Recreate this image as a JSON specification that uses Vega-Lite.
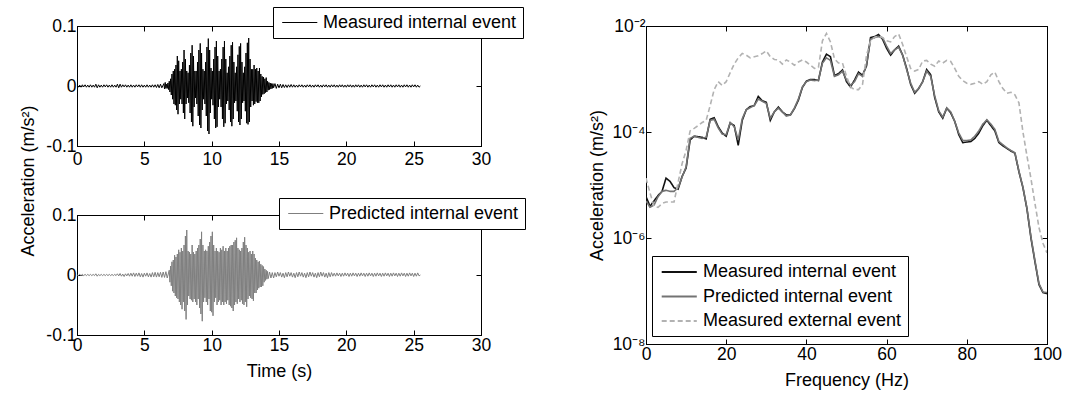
{
  "$schema": "https://vega.github.io/schema/vega-lite/v6.json",
  "background": "white",
  "padding": {"left": 18, "top": 6, "right": 5, "bottom": 5},
  "bounds": "flush",
  "spacing": 569,
  "config": {
    "font": "Liberation Sans",
    "view": {"stroke": "#000000", "strokeWidth": 1},
    "line": {"strokeCap": "butt", "strokeJoin": "miter"},
    "axis": {
      "domainColor": "#000000", "domainWidth": 1,
      "tickColor": "#000000", "tickSize": -5, "tickWidth": 1,
      "labelColor": "#000000", "labelFontSize": 17.5, "labelFont": "Liberation Sans",
      "titleFont": "Liberation Sans", "titleFontSize": 18, "titleFontWeight": "normal", "titleColor": "#000000",
      "labelFlush": false, "labelOverlap": false, "labelPadding": 6, "grid": false
    },
    "legend": {
      "orient": "none", "title": null, "symbolType": "M-0.7,0H3.2", "symbolSize": 324,
      "labelFont": "Liberation Sans", "labelFontSize": 18, "labelColor": "#000000", "labelLimit": 400,
      "strokeColor": "#000000", "fillColor": "#ffffff", "padding": 6, "labelOffset": 25
    }
  },
  "datasets": {
    "measured": [
      {"t":0,"a":0.001},{"t":0.1,"a":-0.002},{"t":0.2,"a":0.0015},{"t":0.3,"a":-0.002},{"t":0.4,"a":0.002},{"t":0.5,"a":-0.0015},{"t":0.6,"a":0.002},{"t":0.7,"a":-0.002},{"t":0.8,"a":0.0015},{"t":0.9,"a":-0.002},
      {"t":1,"a":0.002},{"t":1.1,"a":-0.002},{"t":1.2,"a":0.0015},{"t":1.3,"a":-0.002},{"t":1.4,"a":0.003},{"t":1.5,"a":-0.003},{"t":1.6,"a":0.002},{"t":1.7,"a":-0.002},{"t":1.8,"a":0.0015},{"t":1.9,"a":-0.002},
      {"t":2,"a":0.002},{"t":2.1,"a":-0.0015},{"t":2.2,"a":0.002},{"t":2.3,"a":-0.002},{"t":2.4,"a":0.0015},{"t":2.5,"a":-0.002},{"t":2.6,"a":0.002},{"t":2.7,"a":-0.002},{"t":2.8,"a":0.0015},{"t":2.9,"a":-0.002},
      {"t":3,"a":0.003},{"t":3.1,"a":-0.003},{"t":3.2,"a":0.003},{"t":3.3,"a":-0.002},{"t":3.4,"a":0.002},{"t":3.5,"a":-0.0015},{"t":3.6,"a":0.002},{"t":3.7,"a":-0.002},{"t":3.8,"a":0.0015},{"t":3.9,"a":-0.002},
      {"t":4,"a":0.002},{"t":4.1,"a":-0.002},{"t":4.2,"a":0.0015},{"t":4.3,"a":-0.002},{"t":4.4,"a":0.002},{"t":4.5,"a":-0.0015},{"t":4.6,"a":0.002},{"t":4.7,"a":-0.002},{"t":4.8,"a":0.002},{"t":4.9,"a":-0.002},
      {"t":5,"a":0.0015},{"t":5.1,"a":-0.002},{"t":5.2,"a":0.002},{"t":5.3,"a":-0.002},{"t":5.4,"a":0.0015},{"t":5.5,"a":-0.002},{"t":5.6,"a":0.002},{"t":5.7,"a":-0.002},{"t":5.8,"a":0.002},{"t":5.9,"a":-0.0025},
      {"t":6,"a":0.0025},{"t":6.1,"a":-0.003},{"t":6.2,"a":0.003},{"t":6.3,"a":-0.003},
      {"t":6.45,"a":0.004},{"t":6.5,"a":-0.005},{"t":6.55,"a":0.006},{"t":6.6,"a":-0.004},{"t":6.65,"a":0.003},{"t":6.7,"a":-0.004},{"t":6.75,"a":0.005},{"t":6.8,"a":-0.006},{"t":6.85,"a":0.008},{"t":6.9,"a":-0.01},{"t":6.95,"a":0.012},
      {"t":7,"a":-0.015},{"t":7.05,"a":0.02},{"t":7.1,"a":-0.022},{"t":7.15,"a":0.025},{"t":7.2,"a":-0.03},{"t":7.25,"a":0.028},{"t":7.3,"a":-0.032},{"t":7.35,"a":0.035},{"t":7.4,"a":-0.04},{"t":7.45,"a":0.05},
      {"t":7.5,"a":-0.047},{"t":7.55,"a":0.042},{"t":7.6,"a":-0.03},{"t":7.65,"a":0.025},{"t":7.7,"a":-0.022},{"t":7.75,"a":0.028},{"t":7.8,"a":-0.03},{"t":7.85,"a":0.04},{"t":7.9,"a":-0.045},{"t":7.95,"a":0.06},
      {"t":8,"a":-0.055},{"t":8.05,"a":0.045},{"t":8.1,"a":-0.03},{"t":8.15,"a":0.025},{"t":8.2,"a":-0.02},{"t":8.25,"a":0.022},{"t":8.3,"a":-0.028},{"t":8.35,"a":0.035},{"t":8.4,"a":-0.045},{"t":8.45,"a":0.055},
      {"t":8.5,"a":-0.06},{"t":8.55,"a":0.068},{"t":8.6,"a":-0.067},{"t":8.65,"a":0.05},{"t":8.7,"a":-0.035},{"t":8.75,"a":0.025},{"t":8.8,"a":-0.02},{"t":8.85,"a":0.025},{"t":8.9,"a":-0.03},{"t":8.95,"a":0.04},
      {"t":9,"a":-0.05},{"t":9.05,"a":0.06},{"t":9.1,"a":-0.065},{"t":9.15,"a":0.071},{"t":9.2,"a":-0.07},{"t":9.25,"a":0.055},{"t":9.3,"a":-0.04},{"t":9.35,"a":0.028},{"t":9.4,"a":-0.022},{"t":9.45,"a":0.025},
      {"t":9.5,"a":-0.03},{"t":9.55,"a":0.04},{"t":9.6,"a":-0.05},{"t":9.65,"a":0.065},{"t":9.7,"a":-0.075},{"t":9.75,"a":0.079},{"t":9.8,"a":-0.08},{"t":9.85,"a":0.06},{"t":9.9,"a":-0.045},{"t":9.95,"a":0.03},
      {"t":10,"a":-0.022},{"t":10.05,"a":0.025},{"t":10.1,"a":-0.032},{"t":10.15,"a":0.045},{"t":10.2,"a":-0.055},{"t":10.25,"a":0.065},{"t":10.3,"a":-0.07},{"t":10.35,"a":0.075},{"t":10.4,"a":-0.068},{"t":10.45,"a":0.05},
      {"t":10.5,"a":-0.035},{"t":10.55,"a":0.025},{"t":10.6,"a":-0.022},{"t":10.65,"a":0.028},{"t":10.7,"a":-0.035},{"t":10.75,"a":0.045},{"t":10.8,"a":-0.055},{"t":10.85,"a":0.065},{"t":10.9,"a":-0.068},{"t":10.95,"a":0.075},
      {"t":11,"a":-0.062},{"t":11.05,"a":0.045},{"t":11.1,"a":-0.03},{"t":11.15,"a":0.022},{"t":11.2,"a":-0.025},{"t":11.25,"a":0.032},{"t":11.3,"a":-0.04},{"t":11.35,"a":0.05},{"t":11.4,"a":-0.06},{"t":11.45,"a":0.068},
      {"t":11.5,"a":-0.067},{"t":11.55,"a":0.073},{"t":11.6,"a":-0.055},{"t":11.65,"a":0.04},{"t":11.7,"a":-0.028},{"t":11.75,"a":0.022},{"t":11.8,"a":-0.025},{"t":11.85,"a":0.032},{"t":11.9,"a":-0.042},{"t":11.95,"a":0.052},
      {"t":12,"a":-0.06},{"t":12.05,"a":0.066},{"t":12.1,"a":-0.065},{"t":12.15,"a":0.071},{"t":12.2,"a":-0.055},{"t":12.25,"a":0.04},{"t":12.3,"a":-0.028},{"t":12.35,"a":0.022},{"t":12.4,"a":-0.025},{"t":12.45,"a":0.032},
      {"t":12.5,"a":-0.042},{"t":12.55,"a":0.055},{"t":12.6,"a":-0.062},{"t":12.65,"a":0.072},{"t":12.7,"a":-0.064},{"t":12.75,"a":0.08},{"t":12.8,"a":-0.06},{"t":12.85,"a":0.045},{"t":12.9,"a":-0.035},{"t":12.95,"a":0.028},
      {"t":13,"a":-0.025},{"t":13.05,"a":0.028},{"t":13.1,"a":-0.032},{"t":13.15,"a":0.035},{"t":13.2,"a":-0.03},{"t":13.25,"a":0.028},{"t":13.3,"a":-0.026},{"t":13.35,"a":0.03},{"t":13.4,"a":-0.028},{"t":13.45,"a":0.025},
      {"t":13.5,"a":-0.028},{"t":13.55,"a":0.03},{"t":13.6,"a":-0.025},{"t":13.65,"a":0.02},{"t":13.7,"a":-0.018},{"t":13.75,"a":0.016},{"t":13.8,"a":-0.014},{"t":13.85,"a":0.015},{"t":13.9,"a":-0.013},{"t":13.95,"a":0.012},
      {"t":14,"a":-0.011},{"t":14.05,"a":0.014},{"t":14.1,"a":-0.01},{"t":14.15,"a":0.008},{"t":14.2,"a":-0.007},{"t":14.25,"a":0.006},{"t":14.3,"a":-0.006},{"t":14.35,"a":0.005},{"t":14.4,"a":-0.005},{"t":14.45,"a":0.004},
      {"t":14.5,"a":-0.004},{"t":14.55,"a":0.004},{"t":14.6,"a":-0.003},
      {"t":14.7,"a":0.004},{"t":14.8,"a":-0.004},{"t":14.9,"a":0.003},{"t":15,"a":-0.003},{"t":15.1,"a":0.003},{"t":15.2,"a":-0.003},{"t":15.3,"a":0.0025},{"t":15.4,"a":-0.0025},{"t":15.5,"a":0.002},{"t":15.6,"a":-0.0025},
      {"t":15.7,"a":0.002},{"t":15.8,"a":-0.002},{"t":15.9,"a":0.0025},{"t":16,"a":-0.002},{"t":16.1,"a":0.002},{"t":16.2,"a":-0.002},{"t":16.3,"a":0.0015},{"t":16.4,"a":-0.002},{"t":16.5,"a":0.002},{"t":16.6,"a":-0.0015},
      {"t":16.7,"a":0.002},{"t":16.8,"a":-0.002},{"t":16.9,"a":0.0015},{"t":17,"a":-0.002},{"t":17.1,"a":0.002},{"t":17.2,"a":-0.0015},{"t":17.3,"a":0.002},{"t":17.4,"a":-0.002},{"t":17.5,"a":0.0015},{"t":17.6,"a":-0.002},
      {"t":17.7,"a":0.002},{"t":17.8,"a":-0.0015},{"t":17.9,"a":0.002},{"t":18,"a":-0.002},{"t":18.1,"a":0.0015},{"t":18.2,"a":-0.002},{"t":18.3,"a":0.002},{"t":18.4,"a":-0.0015},{"t":18.5,"a":0.002},{"t":18.6,"a":-0.002},
      {"t":18.7,"a":0.0015},{"t":18.8,"a":-0.002},{"t":18.9,"a":0.002},{"t":19,"a":-0.0015},{"t":19.1,"a":0.002},{"t":19.2,"a":-0.002},{"t":19.3,"a":0.0015},{"t":19.4,"a":-0.002},{"t":19.5,"a":0.002},{"t":19.6,"a":-0.0015},
      {"t":19.7,"a":0.002},{"t":19.8,"a":-0.002},{"t":19.9,"a":0.0015},{"t":20,"a":-0.002},{"t":20.1,"a":0.002},{"t":20.2,"a":-0.0015},{"t":20.3,"a":0.002},{"t":20.4,"a":-0.002},{"t":20.5,"a":0.0015},{"t":20.6,"a":-0.002},
      {"t":20.7,"a":0.002},{"t":20.8,"a":-0.0015},{"t":20.9,"a":0.002},{"t":21,"a":-0.002},{"t":21.1,"a":0.0015},{"t":21.2,"a":-0.002},{"t":21.3,"a":0.002},{"t":21.4,"a":-0.0015},{"t":21.5,"a":0.002},{"t":21.6,"a":-0.002},
      {"t":21.7,"a":0.0015},{"t":21.8,"a":-0.002},{"t":21.9,"a":0.002},{"t":22,"a":-0.0015},{"t":22.1,"a":0.002},{"t":22.2,"a":-0.002},{"t":22.3,"a":0.0015},{"t":22.4,"a":-0.002},{"t":22.5,"a":0.002},{"t":22.6,"a":-0.0015},
      {"t":22.7,"a":0.002},{"t":22.8,"a":-0.002},{"t":22.9,"a":0.0015},{"t":23,"a":-0.002},{"t":23.1,"a":0.002},{"t":23.2,"a":-0.0015},{"t":23.3,"a":0.002},{"t":23.4,"a":-0.002},{"t":23.5,"a":0.0015},{"t":23.6,"a":-0.002},
      {"t":23.7,"a":0.002},{"t":23.8,"a":-0.0015},{"t":23.9,"a":0.002},{"t":24,"a":-0.002},{"t":24.1,"a":0.0015},{"t":24.2,"a":-0.002},{"t":24.3,"a":0.002},{"t":24.4,"a":-0.0015},{"t":24.5,"a":0.002},{"t":24.6,"a":-0.002},
      {"t":24.7,"a":0.0015},{"t":24.8,"a":-0.002},{"t":24.9,"a":0.002},{"t":25,"a":-0.0015},{"t":25.1,"a":0.002},{"t":25.2,"a":-0.002},{"t":25.3,"a":0.0015},{"t":25.4,"a":-0.002},{"t":25.5,"a":0}
    ],
    "predicted": [
      {"t":0,"a":0},{"t":0.1,"a":-0.001},{"t":0.2,"a":0.001},{"t":0.3,"a":-0.001},{"t":0.4,"a":0.001},{"t":0.5,"a":-0.001},{"t":0.6,"a":0.001},{"t":0.7,"a":-0.001},{"t":0.8,"a":0.001},{"t":0.9,"a":-0.001},
      {"t":1,"a":0.001},{"t":1.1,"a":-0.001},{"t":1.2,"a":0.001},{"t":1.3,"a":-0.001},{"t":1.4,"a":0.002},{"t":1.5,"a":-0.002},{"t":1.6,"a":0.001},{"t":1.7,"a":-0.001},{"t":1.8,"a":0.001},{"t":1.9,"a":-0.001},
      {"t":2,"a":0.001},{"t":2.1,"a":-0.001},{"t":2.2,"a":0.001},{"t":2.3,"a":-0.001},{"t":2.4,"a":0.001},{"t":2.5,"a":-0.001},{"t":2.6,"a":0.001},{"t":2.7,"a":-0.001},{"t":2.8,"a":0.001},{"t":2.9,"a":-0.001},
      {"t":3,"a":0.002},{"t":3.1,"a":-0.0015},{"t":3.2,"a":0.0025},{"t":3.3,"a":-0.002},{"t":3.4,"a":0.0015},{"t":3.5,"a":-0.0025},{"t":3.6,"a":0.002},{"t":3.7,"a":-0.0015},{"t":3.8,"a":0.0025},{"t":3.9,"a":-0.002},
      {"t":4,"a":0.003},{"t":4.1,"a":-0.002},{"t":4.2,"a":0.0035},{"t":4.3,"a":-0.0025},{"t":4.4,"a":0.003},{"t":4.5,"a":-0.002},{"t":4.6,"a":0.0035},{"t":4.7,"a":-0.003},{"t":4.8,"a":0.0025},{"t":4.9,"a":-0.0035},
      {"t":5,"a":0.003},{"t":5.1,"a":-0.002},{"t":5.2,"a":0.0035},{"t":5.3,"a":-0.003},{"t":5.4,"a":0.0025},{"t":5.5,"a":-0.0035},{"t":5.6,"a":0.004},{"t":5.7,"a":-0.003},{"t":5.8,"a":0.0045},{"t":5.9,"a":-0.0035},
      {"t":6,"a":0.004},{"t":6.1,"a":-0.003},{"t":6.2,"a":0.0045},{"t":6.3,"a":-0.004},{"t":6.4,"a":0.005},{"t":6.5,"a":-0.004},{"t":6.6,"a":0.0055},{"t":6.7,"a":-0.005},
      {"t":6.85,"a":0.008},{"t":6.9,"a":-0.012},{"t":6.95,"a":0.015},{"t":7,"a":-0.018},{"t":7.05,"a":0.022},{"t":7.1,"a":-0.027},{"t":7.15,"a":0.025},{"t":7.2,"a":-0.03},{"t":7.25,"a":0.033},{"t":7.3,"a":-0.035},
      {"t":7.35,"a":0.03},{"t":7.4,"a":-0.038},{"t":7.45,"a":0.035},{"t":7.5,"a":-0.04},{"t":7.55,"a":0.042},{"t":7.6,"a":-0.045},{"t":7.65,"a":0.038},{"t":7.7,"a":-0.05},{"t":7.75,"a":0.045},{"t":7.8,"a":-0.057},
      {"t":7.85,"a":0.04},{"t":7.9,"a":-0.045},{"t":7.95,"a":0.05},{"t":8,"a":-0.06},{"t":8.05,"a":0.065},{"t":8.1,"a":-0.074},{"t":8.15,"a":0.075},{"t":8.2,"a":-0.05},{"t":8.25,"a":0.04},{"t":8.3,"a":-0.035},
      {"t":8.35,"a":0.038},{"t":8.4,"a":-0.04},{"t":8.45,"a":0.035},{"t":8.5,"a":-0.042},{"t":8.55,"a":0.05},{"t":8.6,"a":-0.045},{"t":8.65,"a":0.038},{"t":8.7,"a":-0.04},{"t":8.75,"a":0.035},{"t":8.8,"a":-0.045},
      {"t":8.85,"a":0.04},{"t":8.9,"a":-0.05},{"t":8.95,"a":0.045},{"t":9,"a":-0.04},{"t":9.05,"a":0.05},{"t":9.1,"a":-0.055},{"t":9.15,"a":0.06},{"t":9.2,"a":-0.065},{"t":9.25,"a":0.072},{"t":9.3,"a":-0.077},
      {"t":9.35,"a":0.05},{"t":9.4,"a":-0.045},{"t":9.45,"a":0.04},{"t":9.5,"a":-0.038},{"t":9.55,"a":0.042},{"t":9.6,"a":-0.045},{"t":9.65,"a":0.04},{"t":9.7,"a":-0.05},{"t":9.75,"a":0.048},{"t":9.8,"a":-0.04},
      {"t":9.85,"a":0.055},{"t":9.9,"a":-0.06},{"t":9.95,"a":0.065},{"t":10,"a":-0.062},{"t":10.05,"a":0.072},{"t":10.1,"a":-0.068},{"t":10.15,"a":0.05},{"t":10.2,"a":-0.045},{"t":10.25,"a":0.04},{"t":10.3,"a":-0.038},
      {"t":10.35,"a":0.045},{"t":10.4,"a":-0.05},{"t":10.45,"a":0.04},{"t":10.5,"a":-0.045},{"t":10.55,"a":0.038},{"t":10.6,"a":-0.042},{"t":10.65,"a":0.045},{"t":10.7,"a":-0.05},{"t":10.75,"a":0.042},{"t":10.8,"a":-0.045},
      {"t":10.85,"a":0.048},{"t":10.9,"a":-0.05},{"t":10.95,"a":0.04},{"t":11,"a":-0.045},{"t":11.05,"a":0.045},{"t":11.1,"a":-0.048},{"t":11.15,"a":0.04},{"t":11.2,"a":-0.042},{"t":11.25,"a":0.045},{"t":11.3,"a":-0.05},
      {"t":11.35,"a":0.048},{"t":11.4,"a":-0.052},{"t":11.45,"a":0.05},{"t":11.5,"a":-0.055},{"t":11.55,"a":0.05},{"t":11.6,"a":-0.06},{"t":11.65,"a":0.055},{"t":11.7,"a":-0.05},{"t":11.75,"a":0.058},{"t":11.8,"a":-0.045},
      {"t":11.85,"a":0.062},{"t":11.9,"a":-0.048},{"t":11.95,"a":0.045},{"t":12,"a":-0.04},{"t":12.05,"a":0.042},{"t":12.1,"a":-0.045},{"t":12.15,"a":0.04},{"t":12.2,"a":-0.042},{"t":12.25,"a":0.045},{"t":12.3,"a":-0.048},
      {"t":12.35,"a":0.055},{"t":12.4,"a":-0.05},{"t":12.45,"a":0.063},{"t":12.5,"a":-0.045},{"t":12.55,"a":0.05},{"t":12.6,"a":-0.053},{"t":12.65,"a":0.045},{"t":12.7,"a":-0.04},{"t":12.75,"a":0.038},{"t":12.8,"a":-0.035},
      {"t":12.85,"a":0.04},{"t":12.9,"a":-0.038},{"t":12.95,"a":0.035},{"t":13,"a":-0.04},{"t":13.05,"a":0.04},{"t":13.1,"a":-0.043},{"t":13.15,"a":0.035},{"t":13.2,"a":-0.03},{"t":13.25,"a":0.028},{"t":13.3,"a":-0.03},
      {"t":13.35,"a":0.025},{"t":13.4,"a":-0.025},{"t":13.45,"a":0.022},{"t":13.5,"a":-0.022},{"t":13.55,"a":0.023},{"t":13.6,"a":-0.02},{"t":13.65,"a":0.018},{"t":13.7,"a":-0.02},{"t":13.75,"a":0.016},{"t":13.8,"a":-0.018},
      {"t":13.85,"a":0.014},{"t":13.9,"a":-0.012},{"t":13.95,"a":0.01},{"t":14,"a":-0.009},{"t":14.05,"a":0.008},{"t":14.1,"a":-0.007},{"t":14.15,"a":0.006},{"t":14.2,"a":-0.006},
      {"t":14.3,"a":0.005},{"t":14.4,"a":-0.005},{"t":14.5,"a":0.004},{"t":14.6,"a":-0.005},
      {"t":14.7,"a":0.004},{"t":14.8,"a":-0.003},{"t":14.9,"a":0.005},{"t":15,"a":-0.002},{"t":15.1,"a":0.004},{"t":15.2,"a":-0.0035},{"t":15.3,"a":0.003},{"t":15.4,"a":-0.0045},
      {"t":15.5,"a":0.004},{"t":15.6,"a":-0.003},{"t":15.7,"a":0.005},{"t":15.8,"a":-0.002},{"t":15.9,"a":0.004},{"t":16,"a":-0.0035},{"t":16.1,"a":0.003},{"t":16.2,"a":-0.0045},
      {"t":16.3,"a":0.004},{"t":16.4,"a":-0.003},{"t":16.5,"a":0.005},{"t":16.6,"a":-0.002},{"t":16.7,"a":0.004},{"t":16.8,"a":-0.0035},{"t":16.9,"a":0.003},{"t":17,"a":-0.0045},
      {"t":17.1,"a":0.004},{"t":17.2,"a":-0.003},{"t":17.3,"a":0.005},{"t":17.4,"a":-0.002},{"t":17.5,"a":0.004},{"t":17.6,"a":-0.0035},{"t":17.7,"a":0.003},{"t":17.8,"a":-0.0045},
      {"t":17.9,"a":0.004},{"t":18,"a":-0.003},{"t":18.1,"a":0.005},{"t":18.2,"a":-0.002},{"t":18.3,"a":0.004},{"t":18.4,"a":-0.0035},{"t":18.5,"a":0.003},{"t":18.6,"a":-0.0045},
      {"t":18.7,"a":0.004},{"t":18.8,"a":-0.003},{"t":18.9,"a":0.004},{"t":19,"a":-0.002},
      {"t":19.1,"a":0.003},{"t":19.2,"a":-0.002},{"t":19.3,"a":0.0035},{"t":19.4,"a":-0.0015},{"t":19.5,"a":0.003},{"t":19.6,"a":-0.0025},
      {"t":19.7,"a":0.003},{"t":19.8,"a":-0.002},{"t":19.9,"a":0.0035},{"t":20,"a":-0.0015},{"t":20.1,"a":0.003},{"t":20.2,"a":-0.0025},
      {"t":20.3,"a":0.003},{"t":20.4,"a":-0.002},{"t":20.5,"a":0.0035},{"t":20.6,"a":-0.0015},{"t":20.7,"a":0.003},{"t":20.8,"a":-0.0025},
      {"t":20.9,"a":0.003},{"t":21,"a":-0.002},{"t":21.1,"a":0.0035},{"t":21.2,"a":-0.0015},{"t":21.3,"a":0.003},{"t":21.4,"a":-0.0025},
      {"t":21.5,"a":0.003},{"t":21.6,"a":-0.002},{"t":21.7,"a":0.0035},{"t":21.8,"a":-0.0015},{"t":21.9,"a":0.003},{"t":22,"a":-0.0025},
      {"t":22.1,"a":0.003},{"t":22.2,"a":-0.002},{"t":22.3,"a":0.0035},{"t":22.4,"a":-0.0015},{"t":22.5,"a":0.003},{"t":22.6,"a":-0.0025},
      {"t":22.7,"a":0.003},{"t":22.8,"a":-0.002},{"t":22.9,"a":0.0035},{"t":23,"a":-0.0015},{"t":23.1,"a":0.003},{"t":23.2,"a":-0.0025},
      {"t":23.3,"a":0.003},{"t":23.4,"a":-0.002},{"t":23.5,"a":0.0035},{"t":23.6,"a":-0.0015},{"t":23.7,"a":0.003},{"t":23.8,"a":-0.0025},
      {"t":23.9,"a":0.003},{"t":24,"a":-0.002},{"t":24.1,"a":0.0035},{"t":24.2,"a":-0.0015},{"t":24.3,"a":0.003},{"t":24.4,"a":-0.0025},
      {"t":24.5,"a":0.003},{"t":24.6,"a":-0.002},{"t":24.7,"a":0.0035},{"t":24.8,"a":-0.0015},{"t":24.9,"a":0.003},{"t":25,"a":-0.0025},
      {"t":25.1,"a":0.003},{"t":25.2,"a":-0.002},{"t":25.3,"a":0.0035},{"t":25.4,"a":-0.0015},{"t":25.5,"a":0}
    ],
    "spectra": [
      {"f":0,"Measured internal event":6.03e-6,"Predicted internal event":5.01e-6,"Measured external event":1.35e-5},
      {"f":1,"Measured internal event":3.98e-6,"Predicted internal event":3.80e-6,"Measured external event":7.08e-6},
      {"f":2,"Measured internal event":5.01e-6,"Predicted internal event":4.17e-6,"Measured external event":3.98e-6},
      {"f":3,"Measured internal event":6.31e-6,"Predicted internal event":6.03e-6,"Measured external event":3.80e-6},
      {"f":4,"Measured internal event":7.59e-6,"Predicted internal event":7.59e-6,"Measured external event":4.47e-6},
      {"f":5,"Measured internal event":1.35e-5,"Predicted internal event":7.94e-6,"Measured external event":4.79e-6},
      {"f":6,"Measured internal event":1.17e-5,"Predicted internal event":7.59e-6,"Measured external event":4.79e-6},
      {"f":7,"Measured internal event":8.91e-6,"Predicted internal event":7.59e-6,"Measured external event":4.79e-6},
      {"f":8,"Measured internal event":8.32e-6,"Predicted internal event":8.91e-6,"Measured external event":1.12e-5},
      {"f":9,"Measured internal event":1.45e-5,"Predicted internal event":1.41e-5,"Measured external event":2.51e-5},
      {"f":10,"Measured internal event":2.09e-5,"Predicted internal event":2.19e-5,"Measured external event":4.47e-5},
      {"f":11,"Measured internal event":7.08e-5,"Predicted internal event":7.59e-5,"Measured external event":1.05e-4},
      {"f":12,"Measured internal event":8.32e-5,"Predicted internal event":8.32e-5,"Measured external event":1.17e-4},
      {"f":13,"Measured internal event":8.13e-5,"Predicted internal event":7.94e-5,"Measured external event":1.32e-4},
      {"f":14,"Measured internal event":7.94e-5,"Predicted internal event":7.59e-5,"Measured external event":1.51e-4},
      {"f":15,"Measured internal event":7.41e-5,"Predicted internal event":7.94e-5,"Measured external event":1.66e-4},
      {"f":16,"Measured internal event":1.74e-4,"Predicted internal event":1.66e-4,"Measured external event":3.16e-4},
      {"f":17,"Measured internal event":1.86e-4,"Predicted internal event":1.74e-4,"Measured external event":6.31e-4},
      {"f":18,"Measured internal event":1.26e-4,"Predicted internal event":1.20e-4,"Measured external event":8.91e-4},
      {"f":19,"Measured internal event":9.55e-5,"Predicted internal event":9.12e-5,"Measured external event":7.59e-4},
      {"f":20,"Measured internal event":8.32e-5,"Predicted internal event":8.91e-5,"Measured external event":8.91e-4},
      {"f":21,"Measured internal event":1.48e-4,"Predicted internal event":1.51e-4,"Measured external event":1.32e-3},
      {"f":22,"Measured internal event":1.32e-4,"Predicted internal event":1.26e-4,"Measured external event":1.91e-3},
      {"f":23,"Measured internal event":5.62e-5,"Predicted internal event":7.08e-5,"Measured external event":2.51e-3},
      {"f":24,"Measured internal event":1.66e-4,"Predicted internal event":1.78e-4,"Measured external event":3.02e-3},
      {"f":25,"Measured internal event":2.63e-4,"Predicted internal event":2.63e-4,"Measured external event":2.82e-3},
      {"f":26,"Measured internal event":3.02e-4,"Predicted internal event":2.88e-4,"Measured external event":2.51e-3},
      {"f":27,"Measured internal event":3.16e-4,"Predicted internal event":3.16e-4,"Measured external event":2.63e-3},
      {"f":28,"Measured internal event":4.68e-4,"Predicted internal event":4.17e-4,"Measured external event":2.75e-3},
      {"f":29,"Measured internal event":3.89e-4,"Predicted internal event":3.80e-4,"Measured external event":3.02e-3},
      {"f":30,"Measured internal event":3.63e-4,"Predicted internal event":3.47e-4,"Measured external event":3.39e-3},
      {"f":31,"Measured internal event":1.66e-4,"Predicted internal event":1.82e-4,"Measured external event":2.63e-3},
      {"f":32,"Measured internal event":2.40e-4,"Predicted internal event":2.40e-4,"Measured external event":2.34e-3},
      {"f":33,"Measured internal event":2.95e-4,"Predicted internal event":2.82e-4,"Measured external event":2.29e-3},
      {"f":34,"Measured internal event":2.40e-4,"Predicted internal event":2.40e-4,"Measured external event":1.91e-3},
      {"f":35,"Measured internal event":2.09e-4,"Predicted internal event":2.00e-4,"Measured external event":2.29e-3},
      {"f":36,"Measured internal event":2.09e-4,"Predicted internal event":2.09e-4,"Measured external event":2.09e-3},
      {"f":37,"Measured internal event":2.75e-4,"Predicted internal event":2.82e-4,"Measured external event":1.82e-3},
      {"f":38,"Measured internal event":3.98e-4,"Predicted internal event":4.17e-4,"Measured external event":2.09e-3},
      {"f":39,"Measured internal event":6.92e-4,"Predicted internal event":7.08e-4,"Measured external event":2.29e-3},
      {"f":40,"Measured internal event":9.12e-4,"Predicted internal event":8.91e-4,"Measured external event":2.09e-3},
      {"f":41,"Measured internal event":9.77e-4,"Predicted internal event":9.55e-4,"Measured external event":1.82e-3},
      {"f":42,"Measured internal event":9.77e-4,"Predicted internal event":9.33e-4,"Measured external event":1.58e-3},
      {"f":43,"Measured internal event":9.33e-4,"Predicted internal event":9.55e-4,"Measured external event":1.66e-3},
      {"f":44,"Measured internal event":2.09e-3,"Predicted internal event":2.00e-3,"Measured external event":5.25e-3},
      {"f":45,"Measured internal event":2.95e-3,"Predicted internal event":2.51e-3,"Measured external event":7.24e-3},
      {"f":46,"Measured internal event":2.63e-3,"Predicted internal event":2.24e-3,"Measured external event":5.01e-3},
      {"f":47,"Measured internal event":1.17e-3,"Predicted internal event":1.12e-3,"Measured external event":2.40e-3},
      {"f":48,"Measured internal event":1.26e-3,"Predicted internal event":1.20e-3,"Measured external event":2.00e-3},
      {"f":49,"Measured internal event":1.48e-3,"Predicted internal event":1.41e-3,"Measured external event":2.00e-3},
      {"f":50,"Measured internal event":8.91e-4,"Predicted internal event":9.55e-4,"Measured external event":1.12e-3},
      {"f":51,"Measured internal event":7.08e-4,"Predicted internal event":7.59e-4,"Measured external event":7.08e-4},
      {"f":52,"Measured internal event":9.55e-4,"Predicted internal event":8.91e-4,"Measured external event":6.31e-4},
      {"f":53,"Measured internal event":1.35e-3,"Predicted internal event":1.26e-3,"Measured external event":6.31e-4},
      {"f":54,"Measured internal event":1.17e-3,"Predicted internal event":1.12e-3,"Measured external event":7.94e-4},
      {"f":55,"Measured internal event":1.78e-3,"Predicted internal event":1.91e-3,"Measured external event":2.82e-3},
      {"f":56,"Measured internal event":6.03e-3,"Predicted internal event":5.62e-3,"Measured external event":5.25e-3},
      {"f":57,"Measured internal event":6.31e-3,"Predicted internal event":6.03e-3,"Measured external event":6.17e-3},
      {"f":58,"Measured internal event":6.92e-3,"Predicted internal event":6.31e-3,"Measured external event":6.46e-3},
      {"f":59,"Measured internal event":5.62e-3,"Predicted internal event":6.03e-3,"Measured external event":6.03e-3},
      {"f":60,"Measured internal event":3.80e-3,"Predicted internal event":4.17e-3,"Measured external event":5.25e-3},
      {"f":61,"Measured internal event":2.82e-3,"Predicted internal event":3.02e-3,"Measured external event":5.01e-3},
      {"f":62,"Measured internal event":3.55e-3,"Predicted internal event":3.55e-3,"Measured external event":6.31e-3},
      {"f":63,"Measured internal event":4.17e-3,"Predicted internal event":3.98e-3,"Measured external event":7.08e-3},
      {"f":64,"Measured internal event":2.82e-3,"Predicted internal event":2.82e-3,"Measured external event":4.47e-3},
      {"f":65,"Measured internal event":1.58e-3,"Predicted internal event":1.51e-3,"Measured external event":2.63e-3},
      {"f":66,"Measured internal event":7.94e-4,"Predicted internal event":8.32e-4,"Measured external event":1.58e-3},
      {"f":67,"Measured internal event":5.37e-4,"Predicted internal event":5.62e-4,"Measured external event":1.41e-3},
      {"f":68,"Measured internal event":6.61e-4,"Predicted internal event":6.61e-4,"Measured external event":1.51e-3},
      {"f":69,"Measured internal event":8.91e-4,"Predicted internal event":8.91e-4,"Measured external event":2.19e-3},
      {"f":70,"Measured internal event":1.51e-3,"Predicted internal event":1.41e-3,"Measured external event":2.24e-3},
      {"f":71,"Measured internal event":1.20e-3,"Predicted internal event":1.12e-3,"Measured external event":1.91e-3},
      {"f":72,"Measured internal event":4.47e-4,"Predicted internal event":4.79e-4,"Measured external event":1.74e-3},
      {"f":73,"Measured internal event":2.40e-4,"Predicted internal event":2.51e-4,"Measured external event":2.19e-3},
      {"f":74,"Measured internal event":1.82e-4,"Predicted internal event":1.91e-4,"Measured external event":2.00e-3},
      {"f":75,"Measured internal event":2.82e-4,"Predicted internal event":2.82e-4,"Measured external event":2.24e-3},
      {"f":76,"Measured internal event":2.29e-4,"Predicted internal event":2.40e-4,"Measured external event":2.14e-3},
      {"f":77,"Measured internal event":1.58e-4,"Predicted internal event":1.58e-4,"Measured external event":1.58e-3},
      {"f":78,"Measured internal event":8.91e-5,"Predicted internal event":9.55e-5,"Measured external event":1.12e-3},
      {"f":79,"Measured internal event":6.31e-5,"Predicted internal event":6.92e-5,"Measured external event":9.33e-4},
      {"f":80,"Measured internal event":6.46e-5,"Predicted internal event":6.92e-5,"Measured external event":8.32e-4},
      {"f":81,"Measured internal event":6.61e-5,"Predicted internal event":7.08e-5,"Measured external event":7.94e-4},
      {"f":82,"Measured internal event":7.59e-5,"Predicted internal event":8.32e-5,"Measured external event":8.32e-4},
      {"f":83,"Measured internal event":9.55e-5,"Predicted internal event":1.05e-4,"Measured external event":8.91e-4},
      {"f":84,"Measured internal event":1.32e-4,"Predicted internal event":1.41e-4,"Measured external event":7.94e-4},
      {"f":85,"Measured internal event":1.66e-4,"Predicted internal event":1.70e-4,"Measured external event":8.91e-4},
      {"f":86,"Measured internal event":1.32e-4,"Predicted internal event":1.41e-4,"Measured external event":1.20e-3},
      {"f":87,"Measured internal event":1.05e-4,"Predicted internal event":1.12e-4,"Measured external event":1.35e-3},
      {"f":88,"Measured internal event":6.31e-5,"Predicted internal event":6.61e-5,"Measured external event":8.91e-4},
      {"f":89,"Measured internal event":5.50e-5,"Predicted internal event":5.75e-5,"Measured external event":6.61e-4},
      {"f":90,"Measured internal event":4.90e-5,"Predicted internal event":5.01e-5,"Measured external event":5.37e-4},
      {"f":91,"Measured internal event":4.37e-5,"Predicted internal event":4.47e-5,"Measured external event":5.62e-4},
      {"f":92,"Measured internal event":3.98e-5,"Predicted internal event":4.07e-5,"Measured external event":5.01e-4},
      {"f":93,"Measured internal event":1.78e-5,"Predicted internal event":1.82e-5,"Measured external event":3.55e-4},
      {"f":94,"Measured internal event":8.91e-6,"Predicted internal event":9.12e-6,"Measured external event":1.00e-4},
      {"f":95,"Measured internal event":3.55e-6,"Predicted internal event":3.63e-6,"Measured external event":3.55e-5},
      {"f":96,"Measured internal event":1.00e-6,"Predicted internal event":1.05e-6,"Measured external event":1.32e-5},
      {"f":97,"Measured internal event":3.55e-7,"Predicted internal event":3.72e-7,"Measured external event":4.47e-6},
      {"f":98,"Measured internal event":1.32e-7,"Predicted internal event":1.38e-7,"Measured external event":1.58e-6},
      {"f":99,"Measured internal event":9.33e-8,"Predicted internal event":9.55e-8,"Measured external event":7.94e-7},
      {"f":100,"Measured internal event":8.91e-8,"Predicted internal event":9.33e-8,"Measured external event":5.25e-7}
    ]
  },
  "resolve": {"scale": {"color": "independent", "strokeDash": "independent"}, "legend": {"color": "independent", "strokeDash": "independent"}},
  "hconcat": [
    {
      "bounds": "flush",
      "spacing": 69,
      "resolve": {"scale": {"color": "independent"}, "legend": {"color": "independent"}},
      "vconcat": [
        {
          "width": 404, "height": 120,
          "data": {"name": "measured"},
          "layer": [
            {
              "mark": {"type": "line", "strokeWidth": 1, "clip": true},
              "encoding": {
                "x": {"field": "t", "type": "quantitative", "scale": {"domain": [0, 30], "nice": false},
                      "axis": {"values": [0, 5, 10, 15, 20, 25, 30], "title": null, "labelPadding": 9}},
                "y": {"field": "a", "type": "quantitative", "scale": {"domain": [-0.1, 0.1], "nice": false},
                      "axis": {"values": [-0.1, 0, 0.1], "labelExpr": "datum.value < 0 ? '-' + format(-datum.value, '~g') : format(datum.value, '~g')",
                               "title": "Acceleration (m/s²)", "titleX": -40, "titleY": 154.5}},
                "color": {"datum": "Measured internal event", "type": "nominal", "scale": {"range": ["#000000"]},
                          "legend": {"legendX": 196, "legendY": -19, "symbolStrokeWidth": 1}}
              }
            },
            {
              "mark": {"type": "line", "strokeOpacity": 0},
              "encoding": {
                "x": {"field": "t", "type": "quantitative", "axis": {"orient": "top", "values": [0, 5, 10, 15, 20, 25, 30], "labels": false, "title": null}},
                "y": {"field": "a", "type": "quantitative", "axis": {"orient": "right", "values": [-0.1, 0, 0.1], "labels": false, "title": null}}
              }
            }
          ],
          "resolve": {"axis": {"x": "independent", "y": "independent"}}
        },
        {
          "width": 404, "height": 120,
          "data": {"name": "predicted"},
          "layer": [
            {
              "mark": {"type": "line", "strokeWidth": 1, "clip": true},
              "encoding": {
                "x": {"field": "t", "type": "quantitative", "scale": {"domain": [0, 30], "nice": false},
                      "axis": {"values": [0, 5, 10, 15, 20, 25, 30], "title": "Time (s)", "titlePadding": 9}},
                "y": {"field": "a", "type": "quantitative", "scale": {"domain": [-0.1, 0.1], "nice": false},
                      "axis": {"values": [-0.1, 0, 0.1], "labelExpr": "datum.value < 0 ? '-' + format(-datum.value, '~g') : format(datum.value, '~g')", "title": null}},
                "color": {"datum": "Predicted internal event", "type": "nominal", "scale": {"range": ["#7f7f7f"]},
                          "legend": {"legendX": 202, "legendY": -17, "symbolStrokeWidth": 1}}
              }
            },
            {
              "mark": {"type": "line", "strokeOpacity": 0},
              "encoding": {
                "x": {"field": "t", "type": "quantitative", "axis": {"orient": "top", "values": [0, 5, 10, 15, 20, 25, 30], "labels": false, "title": null}},
                "y": {"field": "a", "type": "quantitative", "axis": {"orient": "right", "values": [-0.1, 0, 0.1], "labels": false, "title": null}}
              }
            }
          ],
          "resolve": {"axis": {"x": "independent", "y": "independent"}}
        }
      ]
    },
    {
      "width": 401, "height": 318,
      "data": {"name": "spectra"},
      "transform": [{"fold": ["Measured internal event", "Predicted internal event", "Measured external event"], "as": ["series", "acc"]}],
      "layer": [
        {
          "mark": {"type": "line", "strokeWidth": 1.6, "clip": true},
          "encoding": {
            "x": {"field": "f", "type": "quantitative", "scale": {"domain": [0, 100], "nice": false},
                  "axis": {"values": [0, 20, 40, 60, 80, 100], "title": "Frequency (Hz)", "titlePadding": 9}},
            "y": {"field": "acc", "type": "quantitative", "scale": {"type": "log", "domain": [1e-8, 1e-2], "nice": false},
                  "axis": {"values": [1e-8, 1e-6, 1e-4, 1e-2],
                           "labelExpr": "'10' + (datum.value < 5e-8 ? '⁻⁸' : datum.value < 5e-6 ? '⁻⁶' : datum.value < 5e-4 ? '⁻⁴' : '⁻²')",
                           "title": "Acceleration (m/s²)", "titleX": -40}},
            "color": {"field": "series", "type": "nominal",
                      "scale": {"domain": ["Measured internal event", "Predicted internal event", "Measured external event"], "range": ["#111111", "#737373", "#b2b2b2"]},
                      "legend": {"legendX": 6, "legendY": 230, "symbolStrokeWidth": 2, "rowPadding": 5.5}},
            "strokeDash": {"field": "series", "type": "nominal",
                           "scale": {"domain": ["Measured internal event", "Predicted internal event", "Measured external event"], "range": [[1, 0], [1, 0], [5, 3]]},
                           "legend": {"legendX": 6, "legendY": 230, "symbolStrokeWidth": 2, "rowPadding": 5.5}}
          }
        },
        {
          "mark": {"type": "line", "strokeOpacity": 0},
          "encoding": {
            "x": {"field": "f", "type": "quantitative", "axis": {"orient": "top", "values": [0, 20, 40, 60, 80, 100], "labels": false, "title": null}},
            "y": {"field": "acc", "type": "quantitative", "axis": {"orient": "right", "values": [1e-8, 1e-6, 1e-4, 1e-2], "labels": false, "title": null}}
          }
        }
      ],
      "resolve": {"axis": {"x": "independent", "y": "independent"}}
    }
  ]
}
